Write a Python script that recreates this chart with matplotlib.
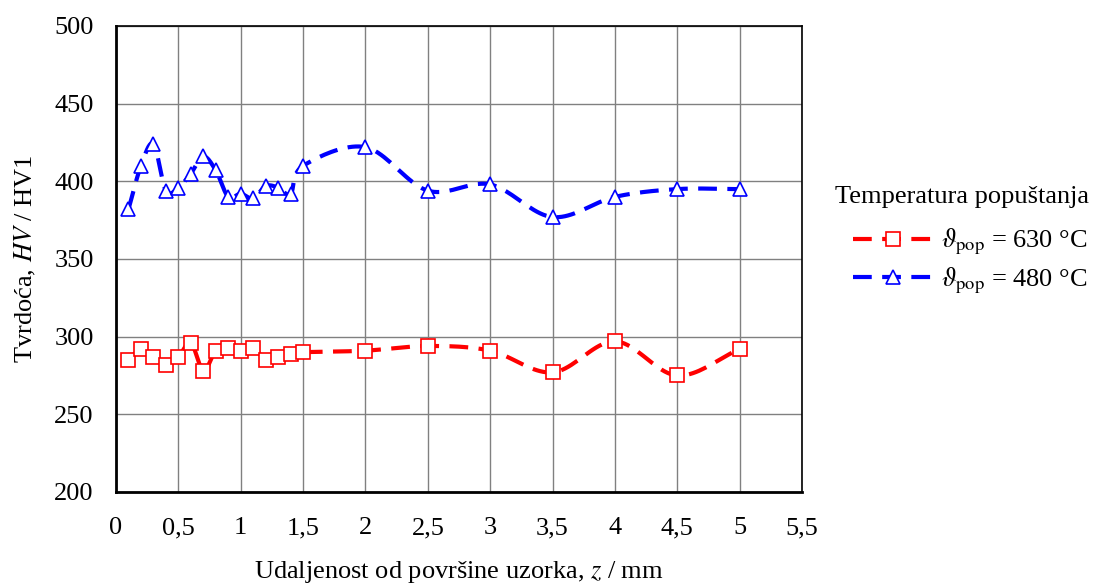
import numpy as np
import matplotlib
matplotlib.use("Agg")
import matplotlib.pyplot as plt

plt.rcParams['font.family'] = ['Liberation Serif', 'DejaVu Serif']
plt.rcParams['mathtext.fontset'] = 'stix'

# udaljenost od povrsine, mm
z = [0.1, 0.2, 0.3, 0.4, 0.5, 0.6, 0.7, 0.8, 0.9, 1.0, 1.1, 1.2, 1.3, 1.4, 1.5,
     2.0, 2.5, 3.0, 3.5, 4.0, 4.5, 5.0]
hv_630 = [285, 292, 287, 282, 287, 296, 278, 291, 293, 291, 293, 285, 287, 289, 290,
          291, 294, 291, 277, 297, 275, 292]
hv_480 = [382, 410, 424, 394, 396, 405, 416, 407, 390, 392, 389, 397, 396, 392, 410,
          422, 394, 398, 377, 390, 395, 395]


def smooth(x, y, n=20):
    # catmull-rom, slicno Excel "smoothed line"
    x = np.asarray(x, float)
    y = np.asarray(y, float)
    px = np.concatenate([[2 * x[0] - x[1]], x, [2 * x[-1] - x[-2]]])
    py = np.concatenate([[2 * y[0] - y[1]], y, [2 * y[-1] - y[-2]]])
    xs, ys = [], []
    for i in range(1, len(px) - 2):
        t = np.linspace(0, 1, n, endpoint=False)
        for arr, out in ((px, xs), (py, ys)):
            p0, p1, p2, p3 = arr[i - 1], arr[i], arr[i + 1], arr[i + 2]
            m1 = (p2 - p0) / 2
            m2 = (p3 - p1) / 2
            h00 = 2 * t**3 - 3 * t**2 + 1
            h10 = t**3 - 2 * t**2 + t
            h01 = -2 * t**3 + 3 * t**2
            h11 = t**3 - t**2
            out.extend(h00 * p1 + h10 * m1 + h01 * p2 + h11 * m2)
    xs.append(x[-1])
    ys.append(y[-1])
    return xs, ys


fig = plt.figure(figsize=(10.95, 5.86), dpi=100)
ax = fig.add_axes([116 / 1095, 1 - 492 / 586, (802 - 116) / 1095, (492 - 26) / 586])

series = [
    (hv_630, 'red', 's', r'$\vartheta_{\mathrm{pop}}$ = 630 °C'),
    (hv_480, 'blue', '^', r'$\vartheta_{\mathrm{pop}}$ = 480 °C'),
]
dash = (4.5, 2.5)
handles = []
for vals, col, mk, lab in series:
    sx, sy = smooth(z, vals)
    ax.plot(sx, sy, color=col, lw=3, dashes=dash, zorder=3)
    ax.plot(z, vals, ls='none', marker=mk, ms=9.5, mfc='white', mec=col, mew=1.2, zorder=4)
    h, = ax.plot([], [], color=col, lw=3, dashes=dash, marker=mk, ms=9.5,
                 mfc='white', mec=col, mew=1.2, label=lab)
    handles.append(h)

ax.set_xlim(0, 5.5)
ax.set_ylim(200, 500)
xt = np.arange(0, 5.51, 0.5)
ax.set_xticks(xt)
ax.set_xticklabels([('%g' % v).replace('.', ',') for v in xt])
ax.set_yticks(np.arange(200, 501, 50))
ax.grid(True, color='#808080', lw=1)
ax.set_axisbelow(True)
ax.tick_params(labelsize=19, length=0)
ax.tick_params(axis='x', pad=18)
ax.tick_params(axis='y', pad=16)
for s in ax.spines.values():
    s.set_color('black')
    s.set_linewidth(1.2)
ax.spines['left'].set_linewidth(2)
ax.spines['bottom'].set_linewidth(2)

ax.set_xlabel(r'Udaljenost od površine uzorka, $\mathit{z}$ / mm', fontsize=19, labelpad=14.5)
ax.set_ylabel(r'Tvrdoća, $\mathit{HV}$ / HV1', fontsize=19, labelpad=12)

fig.text(835 / 1095, 1 - 197 / 586, 'Temperatura popuštanja', fontsize=19,
         ha='left', va='center')
fig.legend(handles=handles, loc='upper left',
           bbox_to_anchor=(853 / 1095, 1 - 227 / 586), frameon=False,
           fontsize=19, handlelength=3.0, handletextpad=0.35, labelspacing=0.3,
           borderpad=0, borderaxespad=0)

fig.savefig('out.png', dpi=100)
